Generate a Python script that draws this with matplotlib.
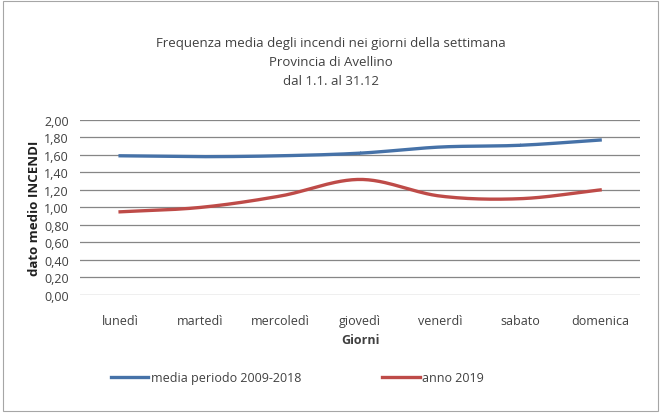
import numpy as np
import matplotlib.pyplot as plt

# Dati
giorni = ["lunedì", "martedì", "mercoledì", "giovedì", "venerdì", "sabato", "domenica"]
media_2009_2018 = [1.59, 1.58, 1.59, 1.62, 1.69, 1.71, 1.77]
anno_2019 = [0.95, 1.00, 1.13, 1.32, 1.13, 1.10, 1.20]
y_ticks = [0.0, 0.2, 0.4, 0.6, 0.8, 1.0, 1.2, 1.4, 1.6, 1.8, 2.0]

plt.rcParams['font.family'] = ['Open Sans', 'DejaVu Sans']


def smooth(xs, ys, n=30):
    # curva "smussata" tipo Excel (Catmull-Rom) tra i punti dati
    xs = np.asarray(xs, float)
    ys = np.asarray(ys, float)
    px = np.concatenate([[2 * xs[0] - xs[1]], xs, [2 * xs[-1] - xs[-2]]])
    py = np.concatenate([[2 * ys[0] - ys[1]], ys, [2 * ys[-1] - ys[-2]]])
    out_x, out_y = [], []
    t = np.linspace(0, 1, n)
    for i in range(1, len(px) - 2):
        for p, out in ((px, out_x), (py, out_y)):
            p0, p1, p2, p3 = p[i - 1], p[i], p[i + 1], p[i + 2]
            out.extend(0.5 * (2 * p1 + (-p0 + p2) * t
                              + (2 * p0 - 5 * p1 + 4 * p2 - p3) * t ** 2
                              + (-p0 + 3 * p1 - 3 * p2 + p3) * t ** 3))
    return out_x, out_y


fig = plt.figure(figsize=(6.62, 4.14), dpi=100)
fig.patches.append(plt.Rectangle((0.004, 0.004), 0.99, 0.99, transform=fig.transFigure,
                                 fill=False, edgecolor="#a6a6a6", linewidth=0.8))
ax = fig.add_axes([0.121, 0.285, 0.846, 0.423])

x = np.arange(len(giorni))
bx, by = smooth(x, media_2009_2018)
rx, ry = smooth(x, anno_2019)
ax.plot(bx, by, color="#4672a8", linewidth=2.4, label="media periodo 2009-2018")
ax.plot(rx, ry, color="#be4b48", linewidth=2.4, label="anno 2019")

ax.set_xlim(-0.5, len(giorni) - 0.5)
ax.set_ylim(0, 2)
ax.set_yticks(y_ticks)
ax.set_yticklabels([f"{v:.2f}".replace(".", ",") for v in y_ticks])
ax.set_xticks(x)
ax.set_xticklabels(giorni)
ax.grid(axis="y", color="#868686", linewidth=0.9)
ax.set_axisbelow(True)
for s in ax.spines.values():
    s.set_visible(False)
ax.tick_params(length=0, labelsize=9, labelcolor="#404040")
ax.tick_params(axis="x", pad=14)
ax.tick_params(axis="y", pad=8)

ax.set_xlabel("Giorni", fontsize=9, fontweight="bold", color="#404040", labelpad=4)
ax.set_ylabel("dato medio INCENDI", fontsize=9.5, fontweight="bold", color="#202020", labelpad=2)

fig.text(0.5, 0.848, "Frequenza media degli incendi nei giorni della settimana\nProvincia di Avellino\ndal 1.1. al 31.12",
         ha="center", va="center", fontsize=9.5, color="#404040", linespacing=1.6)

fig.legend(loc="center left", bbox_to_anchor=(0.15, 0.085), ncol=2, frameon=False,
           fontsize=9, labelcolor="#404040", handlelength=3, columnspacing=6.5, handletextpad=0.2)

plt.savefig("out.png", dpi=100)
